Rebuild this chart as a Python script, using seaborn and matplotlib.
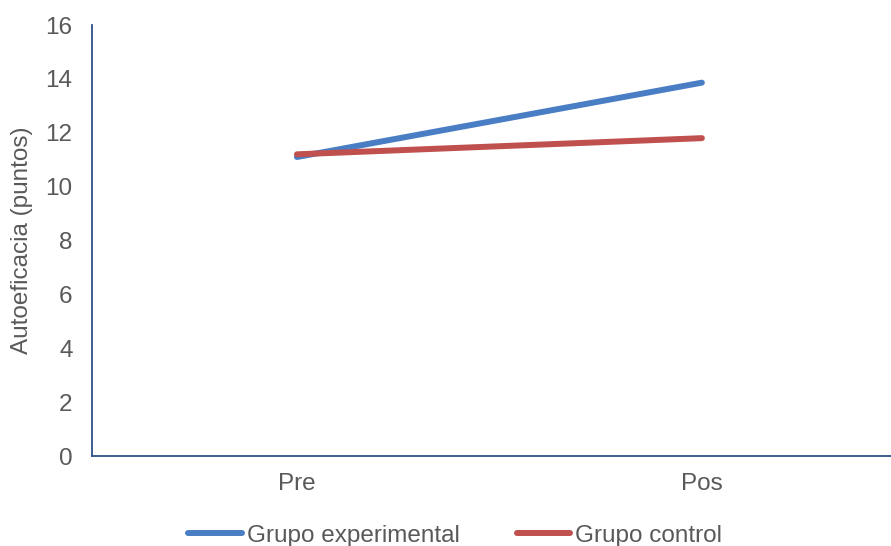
import matplotlib
matplotlib.use("Agg")
import matplotlib.pyplot as plt
import seaborn as sns
import pandas as pd

# Self-efficacy means by group and moment
momentos = ["Pre", "Pos"]
grupo_experimental = [11.1, 13.86]
grupo_control = [11.2, 11.8]
grupos = ["Grupo experimental", "Grupo control"]
colores = ["#4A7EC4", "#C0504D"]

df = pd.DataFrame({
    "Momento": momentos * 2,
    "Autoeficacia": grupo_experimental + grupo_control,
    "Grupo": [grupos[0]] * 2 + [grupos[1]] * 2,
})
df["x"] = df["Momento"].map({m: i for i, m in enumerate(momentos)})

sns.set_theme(style="white")
plt.rcParams["font.family"] = ["Liberation Sans", "DejaVu Sans"]

FS = 17.5
TXT = "#595959"

fig = plt.figure(figsize=(8.91, 5.46), dpi=100)
ax = fig.add_axes([0.1033, 0.1648, 0.8967, 0.7894])

sns.lineplot(data=df, x="x", y="Autoeficacia", hue="Grupo",
             palette=dict(zip(grupos, colores)), linewidth=4.3,
             ax=ax, legend=False, solid_capstyle="round")

ax.set_xlim(-0.506, 1.467)
ax.set_ylim(0, 16)
ax.set_yticks(range(0, 17, 2))
ax.set_xticks(range(len(momentos)))
ax.set_xticklabels(momentos)
ax.set_xlabel("")
ax.set_ylabel("Autoeficacia (puntos)", fontsize=FS, color=TXT, labelpad=9)
ax.tick_params(axis="both", length=0, labelsize=FS, labelcolor=TXT)
ax.tick_params(axis="y", pad=14)
ax.tick_params(axis="x", pad=12)

for side in ["top", "right"]:
    ax.spines[side].set_visible(False)
for side in ["left", "bottom"]:
    ax.spines[side].set_color("#2F4F8A")
    ax.spines[side].set_linewidth(1.3)

handles = [plt.Line2D([], [], color=c, linewidth=4.3, solid_capstyle="round") for c in colores]
fig.legend(handles, grupos, loc="center", bbox_to_anchor=(0.511, 0.019),
           ncol=2, frameon=False, fontsize=FS, labelcolor=TXT,
           handlelength=2.2, handletextpad=0.2, columnspacing=2.35)

fig.savefig("out.png", dpi=100, facecolor="white")
